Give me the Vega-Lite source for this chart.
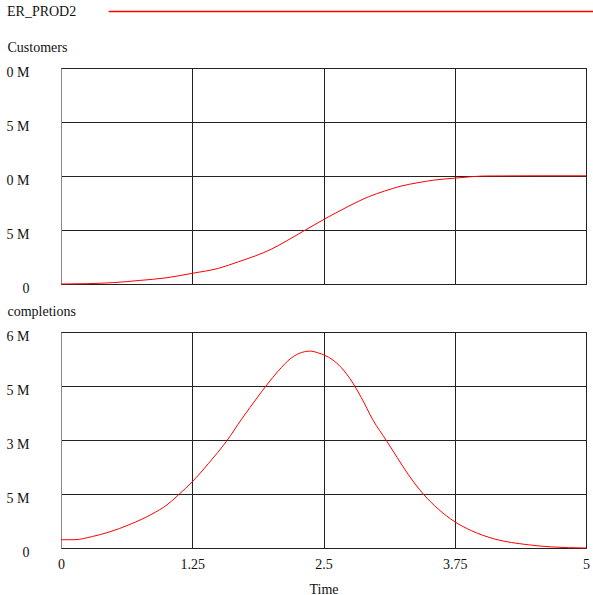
{
  "$schema": "https://vega.github.io/schema/vega-lite/v6.json",
  "autosize": {"type": "pad"},
  "padding": {"left": 5, "top": 11, "right": 0, "bottom": 0},
  "background": "white",
  "bounds": "flush",
  "spacing": 48,
  "config": {
    "font": "Liberation Serif",
    "view": {"stroke": "#222", "strokeWidth": 1},
    "axis": {
      "labelFont": "Liberation Serif", "labelFontSize": 14, "labelColor": "#111",
      "titleFont": "Liberation Serif", "titleFontSize": 14, "titleFontWeight": "normal", "titleColor": "#111",
      "gridColor": "#222", "gridOpacity": 1, "gridWidth": 1,
      "tickSize": 0, "labelOverlap": false, "labelFlush": false
    },
    "legend": {
      "titleFont": "Liberation Serif", "titleFontSize": 14, "titleFontWeight": "normal", "titleColor": "#111"
    }
  },
  "datasets": {
    "customers": [
      {"t": 0, "v": 0, "k": 1},
      {"t": 0.25, "v": 0.03, "k": 1},
      {"t": 0.5, "v": 0.13, "k": 1},
      {"t": 0.75, "v": 0.33, "k": 1},
      {"t": 1.0, "v": 0.57, "k": 1},
      {"t": 1.25, "v": 0.99, "k": 1},
      {"t": 1.5, "v": 1.45, "k": 1},
      {"t": 1.69, "v": 2.06, "k": 1},
      {"t": 1.85, "v": 2.6, "k": 1},
      {"t": 2.0, "v": 3.21, "k": 1},
      {"t": 2.15, "v": 4.0, "k": 1},
      {"t": 2.31, "v": 4.9, "k": 1},
      {"t": 2.45, "v": 5.68, "k": 1},
      {"t": 2.55, "v": 6.23, "k": 1},
      {"t": 2.67, "v": 6.85, "k": 1},
      {"t": 2.8, "v": 7.5, "k": 1},
      {"t": 2.93, "v": 8.08, "k": 1},
      {"t": 3.08, "v": 8.6, "k": 1},
      {"t": 3.24, "v": 9.07, "k": 1},
      {"t": 3.4, "v": 9.38, "k": 1},
      {"t": 3.56, "v": 9.63, "k": 1},
      {"t": 3.75, "v": 9.8, "k": 1},
      {"t": 3.9, "v": 9.93, "k": 1},
      {"t": 4.04, "v": 10.0, "k": 1},
      {"t": 4.5, "v": 10.02, "k": 1},
      {"t": 5.0, "v": 10.02, "k": 1}
    ],
    "completions": [
      {"t": 0, "v": 0.23, "k": 1},
      {"t": 0.125, "v": 0.23, "k": 1},
      {"t": 0.3, "v": 0.32, "k": 1},
      {"t": 0.455, "v": 0.44, "k": 1},
      {"t": 0.66, "v": 0.66, "k": 1},
      {"t": 0.865, "v": 0.94, "k": 1},
      {"t": 1.01, "v": 1.2, "k": 1},
      {"t": 1.12, "v": 1.48, "k": 1},
      {"t": 1.25, "v": 1.84, "k": 1},
      {"t": 1.405, "v": 2.35, "k": 1},
      {"t": 1.58, "v": 2.98, "k": 1},
      {"t": 1.72, "v": 3.58, "k": 1},
      {"t": 1.88, "v": 4.22, "k": 1},
      {"t": 1.96, "v": 4.53, "k": 1},
      {"t": 2.07, "v": 4.92, "k": 1},
      {"t": 2.19, "v": 5.27, "k": 1},
      {"t": 2.29, "v": 5.43, "k": 1},
      {"t": 2.37, "v": 5.47, "k": 1},
      {"t": 2.45, "v": 5.42, "k": 1},
      {"t": 2.58, "v": 5.24, "k": 1},
      {"t": 2.67, "v": 5.01, "k": 1},
      {"t": 2.78, "v": 4.58, "k": 1},
      {"t": 2.86, "v": 4.18, "k": 1},
      {"t": 2.97, "v": 3.56, "k": 1},
      {"t": 3.1, "v": 2.98, "k": 1},
      {"t": 3.2, "v": 2.52, "k": 1},
      {"t": 3.31, "v": 2.03, "k": 1},
      {"t": 3.45, "v": 1.5, "k": 1},
      {"t": 3.59, "v": 1.09, "k": 1},
      {"t": 3.75, "v": 0.73, "k": 1},
      {"t": 3.91, "v": 0.48, "k": 1},
      {"t": 4.13, "v": 0.25, "k": 1},
      {"t": 4.45, "v": 0.09, "k": 1},
      {"t": 4.67, "v": 0.03, "k": 1},
      {"t": 5.0, "v": 0.0, "k": 1}
    ]
  },
  "vconcat": [
    {
      "width": 525,
      "height": 216,
      "data": {"name": "customers"},
      "mark": {"type": "line", "strokeWidth": 1, "interpolate": "monotone"},
      "encoding": {
        "x": {
          "field": "t", "type": "quantitative",
          "scale": {"domain": [0, 5], "nice": false, "zero": false},
          "axis": {"values": [0, 1.25, 2.5, 3.75, 5], "labels": false, "ticks": false, "title": null, "domainColor": "#222"}
        },
        "y": {
          "field": "v", "type": "quantitative",
          "scale": {"domain": [0, 20], "nice": false},
          "axis": {
            "values": [0, 5, 10, 15, 20],
            "labelExpr": "datum.value == 0 ? '0' : (datum.value == 5 || datum.value == 15 ? '5 M' : '0 M')",
            "labelPadding": 32, "labelBaseline": "middle", "labelOffset": 4,
            "domainColor": "#888",
            "title": "Customers", "titleAngle": 0, "titleX": -54, "titleY": -17,
            "titleAlign": "left", "titleBaseline": "alphabetic"
          }
        },
        "color": {
          "field": "k", "type": "quantitative",
          "scale": {"domain": [0, 1], "range": ["#ff0000", "#ff0000"]},
          "legend": {
            "orient": "none", "legendX": -54, "legendY": -57,
            "title": "ER_PROD2", "titleOrient": "left", "titlePadding": 32,
            "direction": "horizontal", "gradientLength": 493, "gradientThickness": 1,
            "gradientStrokeWidth": 0.5, "gradientStrokeColor": "#ff0000", "gradientOpacity": 1,
            "labelExpr": "''", "labelFontSize": 1, "labelOffset": 0, "padding": 0
          }
        }
      }
    },
    {
      "width": 525,
      "height": 216,
      "data": {"name": "completions"},
      "mark": {"type": "line", "strokeWidth": 1, "interpolate": "monotone"},
      "encoding": {
        "x": {
          "field": "t", "type": "quantitative",
          "scale": {"domain": [0, 5], "nice": false, "zero": false},
          "axis": {
            "values": [0, 1.25, 2.5, 3.75, 5],
            "labelExpr": "datum.value == 0 ? '0' : format(datum.value, '.4~f')",
            "labelPadding": 9, "labelBaseline": "top",
            "domainColor": "#222",
            "title": "Time", "titleY": 45, "titleBaseline": "alphabetic"
          }
        },
        "y": {
          "field": "v", "type": "quantitative",
          "scale": {"domain": [0, 6], "nice": false},
          "axis": {
            "values": [0, 1.5, 3, 4.5, 6],
            "labelExpr": "datum.value == 0 ? '0' : (datum.value == 3 ? '3 M' : (datum.value == 6 ? '6 M' : '5 M'))",
            "labelPadding": 32, "labelBaseline": "middle", "labelOffset": 4,
            "domainColor": "#888",
            "title": "completions", "titleAngle": 0, "titleX": -54, "titleY": -17,
            "titleAlign": "left", "titleBaseline": "alphabetic"
          }
        },
        "color": {"field": "k", "type": "quantitative", "scale": {"domain": [0, 1], "range": ["#ff0000", "#ff0000"]}}
      }
    }
  ]
}
